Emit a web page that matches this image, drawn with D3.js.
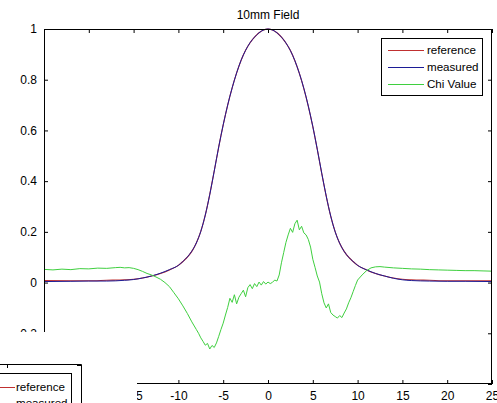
<!DOCTYPE html>
<html>
<head>
<meta charset="utf-8">
<script src="https://cdn.jsdelivr.net/npm/d3@7/dist/d3.min.js"></script>
<style>
  html, body { margin: 0; padding: 0; background: #fff; }
  svg { display: block; }
  text { font-family: "Liberation Sans", Arial, Helvetica, sans-serif; fill: #000; }
</style>
</head>
<body>
<svg id="chart" width="497" height="403"></svg>
<script>
// 10mm field profile: reference vs measured dose, plus chi value
const chartTitle = "10mm Field";
const seriesNames = ["reference", "measured", "Chi Value"];
const xTicks = [-25, -20, -15, -10, -5, 0, 5, 10, 15, 20, 25];
const yTicks = [-0.4, -0.2, 0, 0.2, 0.4, 0.6, 0.8, 1];

const profileX = [-25, -22, -20, -18, -16, -15, -14, -13, -12, -11, -10, -9.5, -9, -8.5, -8, -7.5, -7, -6.5, -6, -5.5, -5, -4.5, -4, -3.5, -3, -2.5, -2, -1.5, -1, -0.5, 0,
                  0.5, 1, 1.5, 2, 2.5, 3, 3.5, 4, 4.5, 5, 5.5, 6, 6.5, 7, 7.5, 8, 8.5, 9, 9.5, 10, 11, 12, 13, 14, 15, 16, 18, 20, 22, 25];
const referenceDose = [0.008, 0.007, 0.007, 0.009, 0.011, 0.013, 0.018, 0.026, 0.036, 0.050, 0.068, 0.083, 0.100, 0.123, 0.156, 0.202, 0.266, 0.348, 0.440, 0.535, 0.622, 0.700, 0.768, 0.827, 0.877, 0.916, 0.946, 0.968, 0.985, 0.996, 1.000,
                       0.996, 0.985, 0.968, 0.945, 0.915, 0.875, 0.825, 0.765, 0.695, 0.615, 0.525, 0.430, 0.340, 0.262, 0.200, 0.155, 0.123, 0.100, 0.083, 0.068, 0.050, 0.036, 0.026, 0.018, 0.013, 0.011, 0.009, 0.007, 0.007, 0.007];
const measuredDose = [0.004, 0.005, 0.006, 0.006, 0.009, 0.012, 0.018, 0.026, 0.037, 0.051, 0.068, 0.083, 0.101, 0.124, 0.156, 0.202, 0.266, 0.347, 0.440, 0.535, 0.622, 0.700, 0.768, 0.827, 0.877, 0.916, 0.946, 0.968, 0.985, 0.996, 1.000,
                      0.996, 0.985, 0.968, 0.945, 0.915, 0.875, 0.825, 0.766, 0.696, 0.616, 0.526, 0.431, 0.341, 0.262, 0.200, 0.155, 0.123, 0.100, 0.083, 0.068, 0.050, 0.036, 0.026, 0.017, 0.011, 0.008, 0.006, 0.005, 0.005, 0.004];

const chiX = [-25, -24, -23, -22, -21, -20, -19, -18, -17, -16.5, -16, -15.5, -15, -14.5, -14, -13.5, -13, -12.5, -12, -11.5,
              -11, -10.5, -10, -9.5, -9, -8.5, -8, -7.75, -7.5, -7.25, -7, -6.75, -6.5, -6.25, -6, -5.75, -5.5, -5.25, -5, -4.75,
              -4.5, -4.25, -4, -3.75, -3.5, -3.25, -3, -2.75, -2.5, -2.25, -2, -1.75, -1.5, -1.25, -1, -0.75, -0.5, -0.25, 0, 0.25,
              0.5, 0.75, 1, 1.25, 1.5, 1.75, 2, 2.25, 2.5, 2.75, 3, 3.25, 3.5, 3.75, 4, 4.25, 4.5, 4.75, 5, 5.25,
              5.5, 5.75, 6, 6.25, 6.5, 6.75, 7, 7.25, 7.5, 7.75, 8, 8.25, 8.5, 8.75, 9, 9.25, 9.5, 9.75, 10, 10.5,
              11, 11.5, 12, 12.5, 13, 14, 15, 16, 17, 18, 19, 20, 21, 22, 23, 24, 25];
const chiValue = [0.052, 0.050, 0.053, 0.051, 0.055, 0.054, 0.057, 0.056, 0.059, 0.060, 0.058, 0.059, 0.056, 0.051, 0.044, 0.036, 0.030, 0.022, 0.013, 0.000,
                  -0.016, -0.040, -0.064, -0.092, -0.122, -0.155, -0.185, -0.200, -0.218, -0.232, -0.247, -0.240, -0.262, -0.248, -0.256, -0.238, -0.212, -0.185, -0.160, -0.128,
                  -0.098, -0.062, -0.078, -0.048, -0.084, -0.058, -0.044, -0.030, -0.056, -0.020, -0.008, -0.024, -0.004, -0.016, 0.002, -0.010, 0.004, -0.006, 0.002, -0.004,
                  0.001, 0.010, 0.006, 0.030, 0.078, 0.118, 0.158, 0.188, 0.214, 0.198, 0.232, 0.246, 0.208, 0.222, 0.196, 0.188, 0.170, 0.140, 0.092, 0.060,
                  0.026, 0.002, -0.044, -0.080, -0.100, -0.084, -0.118, -0.128, -0.134, -0.140, -0.130, -0.138, -0.120, -0.104, -0.080, -0.060, -0.036, -0.012, 0.010, 0.030,
                  0.047, 0.058, 0.062, 0.063, 0.061, 0.058, 0.056, 0.054, 0.053, 0.051, 0.050, 0.049, 0.048, 0.047, 0.047, 0.046, 0.045];

const colors = { reference: "#c03030", measured: "#1c1c96", chi: "#3fcf3f" };

const svg = d3.select("#chart");
const plot = { left: 44, right: 492, top: 29, bottom: 384 };
// area hidden behind the overlapping window in the lower-left corner
const cover = { x: 0, y: 332, w: 137, h: 71 };

const x = d3.scaleLinear().domain([-25, 25]).range([plot.left, plot.right]);
const y = d3.scaleLinear().domain([-0.4, 1]).range([plot.bottom, plot.top]);

const fmt = d => (Math.abs(d) < 1e-9 ? "0" : String(+d.toFixed(1))).replace("\u2212", "-");

svg.append("defs").append("clipPath").attr("id", "plotClip")
  .append("rect")
  .attr("x", plot.left).attr("y", plot.top - 1)
  .attr("width", plot.right - plot.left).attr("height", plot.bottom - plot.top + 1);

// axes (ticks point inward, MATLAB style)
const tickStyle = g => {
  g.select(".domain").remove();
  g.selectAll(".tick line").attr("stroke", "#000");
  g.selectAll(".tick text").attr("font-size", 12).attr("fill", "#000");
};

// drop tick labels that sit entirely under the overlapping window
const dropHiddenLabels = (g, posOf, isX) => {
  g.selectAll(".tick").filter(d => {
    const p = posOf(d);
    return isX ? (p + 10 < cover.x + cover.w) : (p - 6 > cover.y);
  }).select("text").remove();
};

svg.append("g").attr("transform", `translate(0,${plot.bottom})`)
  .call(d3.axisBottom(x).tickValues(xTicks).tickSize(-4).tickPadding(7).tickFormat(fmt))
  .call(tickStyle)
  .call(g => dropHiddenLabels(g, x, true));
svg.append("g").attr("transform", `translate(0,${plot.top})`)
  .call(d3.axisTop(x).tickValues(xTicks).tickSize(-4).tickFormat(""))
  .call(tickStyle);
svg.append("g").attr("transform", `translate(${plot.left},0)`)
  .call(d3.axisLeft(y).tickValues(yTicks).tickSize(-4).tickPadding(7).tickFormat(fmt))
  .call(tickStyle)
  .call(g => dropHiddenLabels(g, y, false));
svg.append("g").attr("transform", `translate(${plot.right},0)`)
  .call(d3.axisRight(y).tickValues(yTicks).tickSize(-4).tickFormat(""))
  .call(tickStyle);

// curves
const profileLine = vals => d3.line()
  .x((d, i) => x(profileX[i]))
  .y((d, i) => y(vals[i]))
  .curve(d3.curveMonotoneX)(vals);

const lines = svg.append("g").attr("clip-path", "url(#plotClip)");
lines.append("path").attr("d", profileLine(referenceDose))
  .attr("fill", "none").attr("stroke", colors.reference).attr("stroke-width", 1.1);
lines.append("path").attr("d", profileLine(measuredDose))
  .attr("fill", "none").attr("stroke", colors.measured).attr("stroke-width", 1);
lines.append("path")
  .attr("d", d3.line().x((d, i) => x(chiX[i])).y(d => y(d))(chiValue))
  .attr("fill", "none").attr("stroke", colors.chi).attr("stroke-width", 1);

// box
svg.append("rect")
  .attr("x", plot.left + 0.5).attr("y", plot.top + 0.5)
  .attr("width", plot.right - plot.left - 1).attr("height", plot.bottom - plot.top - 1)
  .attr("fill", "none").attr("stroke", "#000").attr("stroke-width", 1);

// title
svg.append("text").attr("x", x(0)).attr("y", 19)
  .attr("text-anchor", "middle").attr("font-size", 12).text(chartTitle);

// legend
function drawLegend(g, entries, box, rowY, sampleX0, sampleX1, textX) {
  g.append("rect")
    .attr("x", box.x + 0.5).attr("y", box.y + 0.5)
    .attr("width", box.w).attr("height", box.h)
    .attr("fill", "#fff").attr("stroke", "#000").attr("stroke-width", 1);
  entries.forEach((e, i) => {
    const cy = rowY[i];
    g.append("line").attr("x1", sampleX0).attr("x2", sampleX1)
      .attr("y1", cy + 0.5).attr("y2", cy + 0.5)
      .attr("stroke", e.color).attr("stroke-width", 1);
    g.append("text").attr("x", textX).attr("y", cy + 4)
      .attr("font-size", 11.6).text(e.name);
  });
}

const legendEntries = [
  { name: seriesNames[0], color: colors.reference },
  { name: seriesNames[1], color: colors.measured },
  { name: seriesNames[2], color: colors.chi }
];
drawLegend(svg.append("g"), legendEntries,
  { x: 381, y: 38, w: 101, h: 57 }, [50, 67, 84], 388, 424, 427);

// second figure window overlapping the lower-left corner
const inset = svg.append("g");
inset.append("rect").attr("x", cover.x).attr("y", cover.y).attr("width", cover.w).attr("height", cover.h).attr("fill", "#fff");
inset.append("path").attr("d", "M0,364.5H81.5V403").attr("fill", "none").attr("stroke", "#000");
inset.append("line").attr("x1", 7.5).attr("x2", 7.5).attr("y1", 364).attr("y2", 368).attr("stroke", "#000");
inset.append("line").attr("x1", 77).attr("x2", 81).attr("y1", 365.5).attr("y2", 365.5).attr("stroke", "#000");
drawLegend(inset, legendEntries.slice(0, 2),
  { x: -30, y: 373, w: 101, h: 57 }, [387, 403], -20, 15, 16);
</script>
</body>
</html>
